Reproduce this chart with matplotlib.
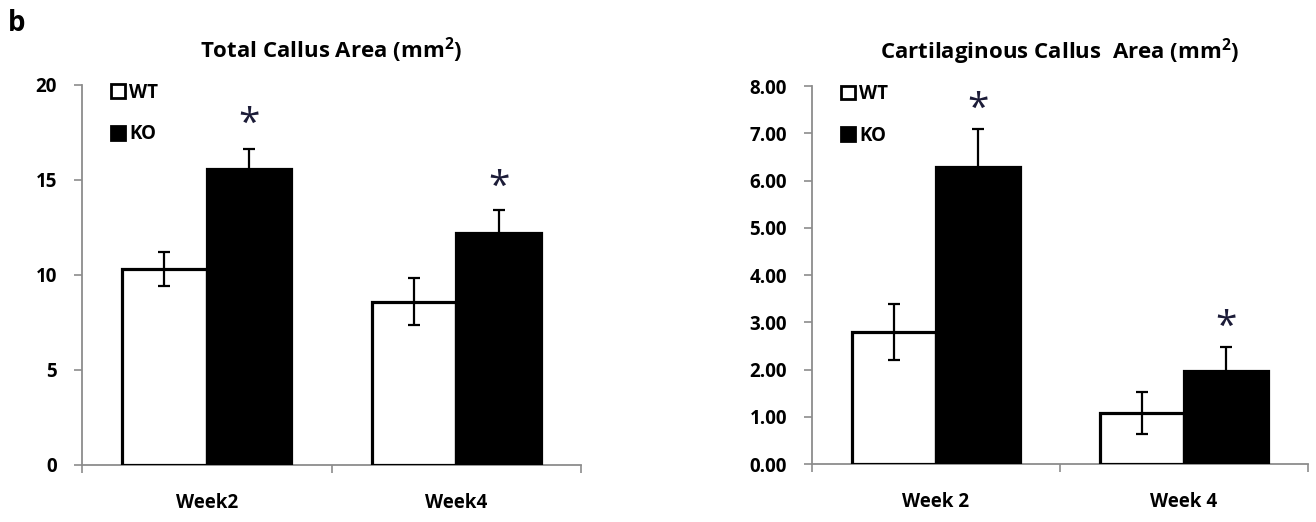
import numpy as np
import matplotlib
matplotlib.use('Agg')
import matplotlib.pyplot as plt
from matplotlib.patches import Patch

plt.rcParams['font.family'] = ['Open Sans', 'DejaVu Sans']
plt.rcParams['font.weight'] = 'bold'
plt.rcParams['mathtext.fontset'] = 'custom'
plt.rcParams['mathtext.bf'] = 'Open Sans:bold'
plt.rcParams['mathtext.rm'] = 'Open Sans:bold'

weeks = ['Week2', 'Week4']
weeks_right = ['Week 2', 'Week 4']

total_wt = [10.3, 8.6]
total_wt_err = [0.9, 1.25]
total_ko = [15.6, 12.2]
total_ko_err = [1.05, 1.2]

cart_wt = [2.79, 1.08]
cart_wt_err = [0.59, 0.45]
cart_ko = [6.28, 1.97]
cart_ko_err = [0.8, 0.5]

star_total = [17.9, 14.6]
star_cart = [7.5, 2.88]

fig = plt.figure(figsize=(13.16, 5.22), dpi=100)
ax1 = fig.add_axes([0.0623, 0.1092, 0.3792, 0.728])
ax2 = fig.add_axes([0.617, 0.1111, 0.3769, 0.7241])

grey = '#8c8c8c'
w = 0.339


def draw(ax, wt, wt_err, ko, ko_err, stars, labels, ymax, step, fmt, title):
    x = np.arange(len(labels))
    ax.bar(x - w / 2, wt, w, color='white', edgecolor='black', linewidth=2.3,
           yerr=wt_err, error_kw=dict(ecolor='black', elinewidth=1.6, capsize=4, capthick=1.6), zorder=3)
    ax.bar(x + w / 2, ko, w, color='black', edgecolor='black', linewidth=2.3,
           yerr=ko_err, error_kw=dict(ecolor='black', elinewidth=1.6, capsize=4, capthick=1.6), zorder=3)
    for xi, s in zip(x, stars):
        ax.text(xi + w / 2, s, '*', ha='center', va='center', fontsize=28,
                color='#1c1c38', fontweight='normal')
    ax.set_xlim(-0.5, len(labels) - 0.5)
    ax.set_ylim(0, ymax)
    ax.set_yticks(np.arange(0, ymax + step / 2, step))
    ax.set_yticklabels([fmt.format(v) for v in np.arange(0, ymax + step / 2, step)])
    ax.set_xticks([-0.5, 0.5, 1.5], minor=False)
    ax.set_xticklabels([])
    ax.set_xticks(x, minor=True)
    ax.set_xticklabels(labels, minor=True)
    ax.tick_params(axis='x', which='minor', length=0, pad=20, labelsize=13.5)
    ax.tick_params(axis='x', which='major', length=6, color=grey, width=1.2)
    ax.tick_params(axis='y', length=6, color=grey, width=1.2, pad=12, labelsize=13.5)
    for side in ['top', 'right']:
        ax.spines[side].set_visible(False)
    for side in ['left', 'bottom']:
        ax.spines[side].set_color(grey)
        ax.spines[side].set_linewidth(1.3)
    ax.set_title(title, fontsize=16, fontweight='bold', pad=20)
    handles = [Patch(facecolor='white', edgecolor='black', linewidth=2, label='WT'),
               Patch(facecolor='black', edgecolor='black', linewidth=2, label='KO')]
    ax.legend(handles=handles, loc='upper left', bbox_to_anchor=(0.025, 1.05), frameon=False,
              handlelength=0.75, handleheight=0.75, handletextpad=0.2, labelspacing=1.15,
              prop={'weight': 'bold', 'size': 13.5})


draw(ax1, total_wt, total_wt_err, total_ko, total_ko_err, star_total, weeks,
     20, 5, '{:.0f}', 'Total Callus Area (mm$^\\mathbf{2}$)')
draw(ax2, cart_wt, cart_wt_err, cart_ko, cart_ko_err, star_cart, weeks_right,
     8, 1, '{:.2f}', 'Cartilaginous Callus  Area (mm$^\\mathbf{2}$)')

fig.text(0.006, 0.94, 'b', fontsize=20, fontweight='bold')

plt.savefig('out.png', dpi=100)
